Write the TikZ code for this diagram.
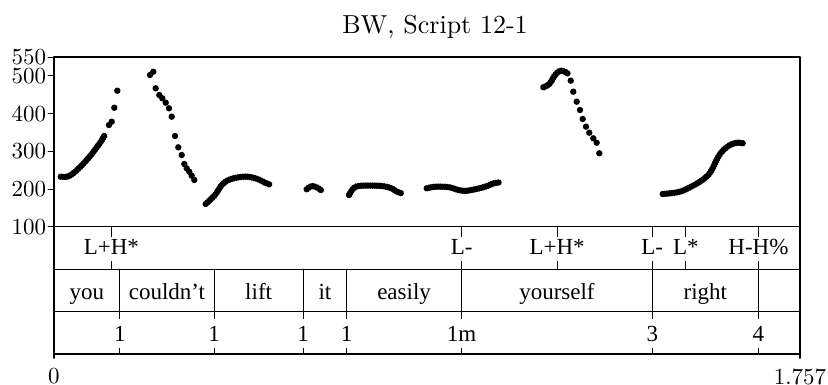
\documentclass[tikz,border=0pt]{standalone}
\usepackage{fontspec}
\newfontfamily\tierfont{Liberation Serif}
\begin{document}
\begin{tikzpicture}[x=424.6pt, y=1pt, line join=round, line cap=round,
	lab/.style={font=\tierfont\fontsize{23}{27}\selectfont, fill=white, inner sep=3.5pt, text height=14pt, text depth=3pt, anchor=base},
	num/.style={font=\fontsize{10}{12}\selectfont, scale=2.3, inner sep=0.4pt},
	frame/.style={line width=1.6pt},
	tier/.style={line width=0.9pt},
	track/.style={line width=6.4pt, dash pattern=on 0.1pt off 2.2pt}]
		\useasboundingbox (-54pt,226.7pt) rectangle (774pt,-158.3pt);
		\node[font=\fontsize{10}{12}\selectfont, scale=2.6, anchor=base] (title) at (381pt,193.4) {BW, Script 12-1};
		%Khung va cac tang
		\draw[tier] (0,0)--(1.757,0) (0,-42.45)--(1.757,-42.45) (0,-84.9)--(1.757,-84.9);
		\foreach \t in {0.155,0.377,0.587,0.689,0.960,1.409,1.659}\draw[tier] (\t,-42.45)--(\t,-84.9);
		\foreach \t/\l [count=\i] in {0.135/L+H*,0.960/L-,1.185/L+H*,1.409/L-,1.488/L*,1.659/H-H\%}{
			\draw[tier] (\t,0)--(\t,-42.45);
			\node[lab] (tone\i) at (\t,-28.3) {\l};}
		\foreach \t/\w [count=\i] in {0.0775/you,0.266/couldn’t,0.482/lift,0.638/it,0.8245/easily,1.1845/yourself,1.534/right}
			\node[lab] (word\i) at (\t,-73.3) {\w};
		\foreach \t/\b [count=\i] in {0.155/1,0.377/1,0.587/1,0.689/1,0.960/1m,1.409/3,1.659/4}{
			\draw[tier] (\t,-84.9)--(\t,-127.35);
			\node[lab, text height=19pt] (brk\i) at (\t,-114.6) {\b};}
		\draw[frame] (0,-131.3)--(0,169.7)--(1.757,169.7)--(1.757,-131.3) (0,-127.35)--(1.757,-127.35);
		\node[num, anchor=north, inner sep=0pt] (tmin) at (0,-141.3) {0};
		\node[num, anchor=north, inner sep=0pt] (tmax) at (1.757,-141.3) {1.757};
		%Duong cao do
		\begin{scope}[y=0.377pt, yshift=-37.7pt]
		\foreach \f in {100,200,300,400,500,550}\draw[tier] (0,\f)--++(-6pt,0) node[num, left] (f\f) {\f};
		\draw[track] plot[smooth] coordinates {(0.0158,232.6) (0.0283,231.8) (0.0400,237.1) (0.0542,250.4) (0.0707,269.0) (0.0871,290.2) (0.1013,311.4) (0.1130,329.9) (0.1194,343.2)};
		\draw[track] plot[smooth] coordinates {(0.3573,160.2) (0.3792,184.1) (0.3950,210.6) (0.4105,223.9) (0.4341,231.0) (0.4576,232.6) (0.4812,225.7) (0.4969,216.7) (0.5111,210.6)};
		\draw[track] plot[smooth] coordinates {(0.5951,199.2) (0.6069,208.0) (0.6187,204.5) (0.6305,195.5)};
		\draw[track] plot[smooth] coordinates {(0.6948,184.1) (0.7049,201.9) (0.7167,208.0) (0.7402,209.0) (0.7718,208.0) (0.7953,201.9) (0.8071,192.8) (0.8189,188.6)};
		\draw[track] plot[smooth] coordinates {(0.8778,201.9) (0.8973,206.0) (0.9286,205.1) (0.9522,197.5) (0.9680,194.8) (0.9915,199.2) (1.0151,206.0) (1.0346,214.7) (1.0480,217.4)};
		\draw[track] plot[smooth] coordinates {(1.1524,469.8) (1.1642,475.9) (1.1722,487.3) (1.1800,502.4) (1.1917,513.8) (1.2035,511.1) (1.2113,505.0)};
		\draw[track] plot[smooth] coordinates {(1.4336,186.7) (1.4508,188.6) (1.4744,192.8) (1.4979,204.5) (1.5214,219.4) (1.5410,237.1) (1.5513,254.9) (1.5568,268.2) (1.5645,285.7) (1.5763,303.4) (1.5921,316.7) (1.6079,322.8) (1.6234,321.2)};
		\foreach \t/\f in {0.1295/369.7,0.1359/378.5,0.1420/415.6,0.1491/460.7,
			0.2261/502.4,0.2339/511.1,0.2395/467.1,0.2480/449.3,0.2551/440.6,0.2631/428.9,0.2708/414.1,0.2772/391.8,
			0.2850/340.6,0.2927/310.6,0.3007/290.2,0.3069/266.3,0.3125/254.9,0.3187/245.9,0.3243/235.3,0.3304/223.9,
			1.2169/487.3,1.2230/458.1,1.2310/431.6,1.2388/409.5,1.2452/385.7,1.2530/365.3,1.2607/349.3,1.2701/334.5,
			1.2781/322.8,1.2843/294.7}\fill[black] (\t,\f) circle (3.2pt);
		\end{scope}
		\end{tikzpicture}
\end{document}
